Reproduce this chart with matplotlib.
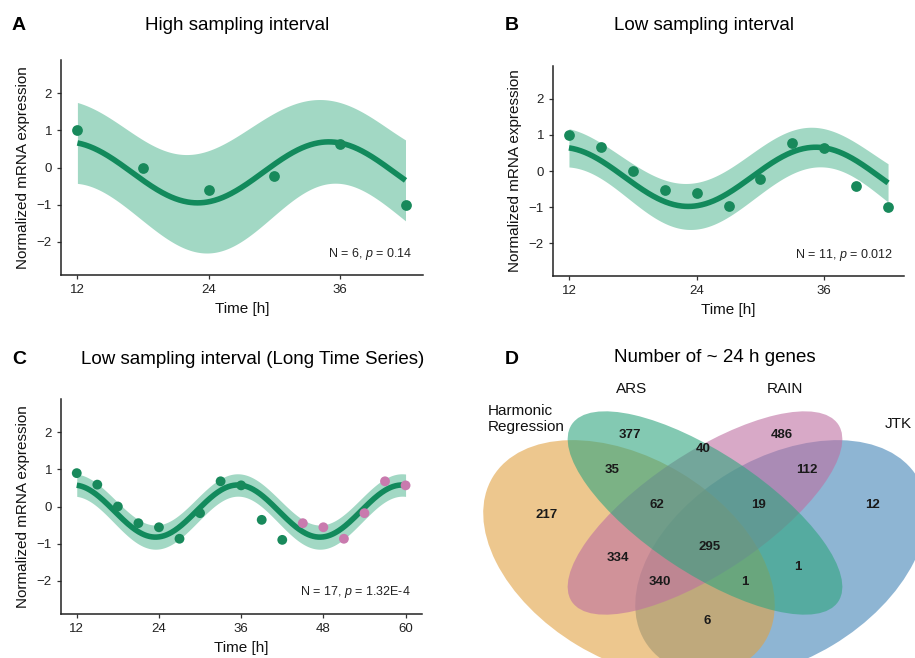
import numpy as np
import matplotlib
matplotlib.use("Agg")
import matplotlib.pyplot as plt
from matplotlib.patches import Ellipse

plt.rcParams['font.family'] = ['Liberation Sans', 'DejaVu Sans']
plt.rcParams['mathtext.fontset'] = 'custom'
plt.rcParams['mathtext.rm'] = 'Liberation Sans'
plt.rcParams['mathtext.it'] = 'Liberation Sans:italic'

# --- data ---
a_time = [12, 18, 24, 30, 36, 42]
a_expr = [1.0, 0.0, -0.62, -0.22, 0.63, -1.0]

b_time = [12, 15, 18, 21, 24, 27, 30, 33, 36, 39, 42]
b_expr = [1.0, 0.67, 0.0, -0.52, -0.62, -0.98, -0.23, 0.76, 0.64, -0.41, -1.0]

c_time = [12, 15, 18, 21, 24, 27, 30, 33, 36, 39, 42, 45, 48, 51, 54, 57, 60]
c_expr = [0.90, 0.59, 0.0, -0.45, -0.56, -0.87, -0.18, 0.68, 0.57, -0.36, -0.90,
          -0.45, -0.56, -0.87, -0.18, 0.68, 0.57]
c_repeat = [0]*11 + [1]*6   # 1 = appended (pink) copies

stats = ["N = 6, $p$ = 0.14", "N = 11, $p$ = 0.012", "N = 17, $p$ = 1.32E-4"]
# two sided 95% t quantiles for dof = N - 3
t_quant = [3.182, 2.306, 2.145]

venn_sets = ["Harmonic\nRegression", "ARS", "RAIN", "JTK"]
venn_regions = ["HR", "ARS", "RAIN", "JTK", "HR&ARS", "ARS&RAIN", "RAIN&JTK",
                "HR&ARS&RAIN", "ARS&RAIN&JTK", "HR&RAIN", "all", "ARS&JTK",
                "HR&RAIN&JTK", "HR&ARS&JTK", "HR&JTK"]
venn_counts = [217, 377, 486, 12, 35, 40, 112, 62, 19, 334, 295, 1, 340, 1, 6]

# colours
pt_col = '#18895b'
line_col = '#128a5c'
band_col = '#a2d8c4'
pink_col = '#c97aae'
venn_cols = ['#e1a243', '#30a57f', '#be70a2', '#4384b7']


def cosinor(t, y, grid, tq):
    # harmonic regression with 24 h period + 95% confidence band
    t = np.asarray(t, float)
    y = np.asarray(y, float)
    w = 2 * np.pi / 24
    X = np.column_stack([np.ones_like(t), np.cos(w*t), np.sin(w*t)])
    beta = np.linalg.lstsq(X, y, rcond=None)[0]
    res = y - X @ beta
    s2 = res @ res / (len(t) - 3)
    cov = s2 * np.linalg.inv(X.T @ X)
    G = np.column_stack([np.ones_like(grid), np.cos(w*grid), np.sin(w*grid)])
    fit = G @ beta
    se = np.sqrt(np.einsum('ij,jk,ik->i', G, cov, G))
    return fit, fit - tq*se, fit + tq*se


def style_ax(ax, xt, xlim):
    ax.set_xlim(*xlim)
    ax.set_ylim(-2.9, 2.9)
    ax.set_xticks(xt)
    ax.set_yticks([-2, -1, 0, 1, 2])
    for s in ['top', 'right']:
        ax.spines[s].set_visible(False)
    for s in ['left', 'bottom']:
        ax.spines[s].set_color('#222222')
        ax.spines[s].set_linewidth(1.1)
    ax.tick_params(length=3, width=0.9, color='#333333', labelsize=9.5,
                   labelcolor='#222222')
    ax.set_xlabel('Time [h]', fontsize=11, color='#111111')
    ax.set_ylabel('Normalized mRNA expression', fontsize=11, color='#111111',
                  labelpad=5)


W, H = 915, 658
fig = plt.figure(figsize=(W/100, H/100), dpi=100)


def px_axes(left, right, top, bottom):
    return fig.add_axes([left/W, 1 - bottom/H, (right-left)/W, (bottom-top)/H])


axA = px_axes(61, 423, 60, 275)
axB = px_axes(553, 904, 66, 276)
axC = px_axes(61, 422, 399, 614)

panels = [(axA, a_time, a_expr, [12, 24, 36], (10.5, 43.6)),
          (axB, b_time, b_expr, [12, 24, 36], (10.5, 43.5)),
          (axC, c_time, c_expr, [12, 24, 36, 48, 60], (9.7, 62.4))]

for i, (ax, tt, yy, xt, xl) in enumerate(panels):
    grid = np.linspace(min(tt), max(tt), 400)
    fit, lo, hi = cosinor(tt, yy, grid, t_quant[i])
    ax.fill_between(grid, lo, hi, color=band_col, lw=0, zorder=1)
    ax.plot(grid, fit, color=line_col, lw=4, zorder=3, solid_capstyle='butt')
    if i == 2:
        cols = [pink_col if r else pt_col for r in c_repeat]
        ax.scatter(tt, yy, s=50, c=cols, zorder=4, lw=0)
    else:
        ax.scatter(tt, yy, s=60, c=pt_col, zorder=4, lw=0)
    style_ax(ax, xt, xl)
    ax.text(0.97, 0.1, stats[i], transform=ax.transAxes, ha='right',
            va='center', fontsize=9, color='#222222')

# panel letters and titles
fig.text(12/W, 1 - 26/H, 'A', fontsize=14, fontweight='bold', va='center')
fig.text(237/W, 1 - 26/H, 'High sampling interval', fontsize=13.5,
         ha='center', va='center')
fig.text(505/W, 1 - 26/H, 'B', fontsize=14, fontweight='bold', va='center')
fig.text(704/W, 1 - 26/H, 'Low sampling interval', fontsize=13.5,
         ha='center', va='center')
fig.text(12/W, 1 - 359/H, 'C', fontsize=14, fontweight='bold', va='center')
fig.text(253/W, 1 - 359/H, 'Low sampling interval (Long Time Series)',
         fontsize=13.5, ha='center', va='center')
fig.text(505/W, 1 - 359/H, 'D', fontsize=14, fontweight='bold', va='center')
fig.text(715/W, 1 - 358/H, 'Number of ~ 24 h genes', fontsize=13.5,
         ha='center', va='center')

# --- Venn diagram (pixel based coordinates, y up) ---
axD = fig.add_axes([455/W, 0, 460/W, 330/H])
axD.set_xlim(455, 915)
axD.set_ylim(0, 330)
axD.axis('off')

ell_xy = [(629, 99), (705, 145), (705, 145), (781, 99)]
ell_w = [318, 320, 320, 318]
ell_h = [201, 120, 120, 201]
ell_ang = [-31, -33.6, 33.6, 31]
for k in [3, 0, 2, 1]:
    axD.add_patch(Ellipse(ell_xy[k], ell_w[k], ell_h[k], angle=ell_ang[k],
                          fc=venn_cols[k], alpha=0.6, lw=0))

set_xy = [(488, 239), (632, 269), (785, 269), (898, 234)]
set_ha = ['left', 'center', 'center', 'center']
for name, xy, ha in zip(venn_sets, set_xy, set_ha):
    axD.text(xy[0], xy[1], name, ha=ha, va='center', fontsize=11,
             color='#111111', linespacing=1.1)

count_xy = [(547, 143), (630, 223), (782, 223), (872, 153), (612, 188),
            (703, 209), (807, 188), (657, 153), (759, 153), (618, 100),
            (710, 111), (798, 91), (660, 76), (745, 76), (707, 37)]
for n, xy in zip(venn_counts, count_xy):
    axD.text(xy[0], xy[1], str(n), ha='center', va='center', fontsize=9.5,
             fontweight='bold', color='#1a1a1a')

fig.savefig('out.png', dpi=100)
